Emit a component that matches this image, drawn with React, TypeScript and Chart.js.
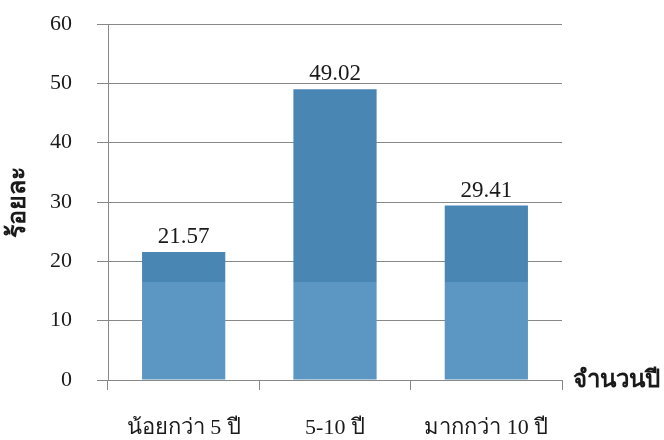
import { useEffect, useRef } from "react";
import { Chart, registerables } from "chart.js";

Chart.register(...registerables);

const categories = ["น้อยกว่า 5 ปี", "5-10 ปี", "มากกว่า 10 ปี"];
const percentages = [21.57, 49.02, 29.41];
const yMin = 0;
const yMax = 60;
const yStep = 10;
const xTitle = "จำนวนปี";
const yTitle = "ร้อยละ";

const SERIF = '"Liberation Serif", "Times New Roman", serif';
const GRID = "#888888";
const TEXT = "#1a1a1a";
const BAR_DARK = "#4a86b4";
const BAR_LIGHT = "#5c96c3";

export default function App() {
  const ref = useRef<HTMLCanvasElement>(null);

  useEffect(() => {
    if (!ref.current) return;

    const valueLabels = {
      id: "valueLabels",
      afterDatasetsDraw(chart: any) {
        const ctx = chart.ctx;
        const meta = chart.getDatasetMeta(0);
        ctx.save();
        ctx.font = `23px ${SERIF}`;
        ctx.fillStyle = TEXT;
        ctx.textAlign = "center";
        ctx.textBaseline = "alphabetic";
        meta.data.forEach((bar: any, i: number) => {
          ctx.fillText(percentages[i].toFixed(2), bar.x, bar.y - 9);
        });
        ctx.restore();
      },
    };

    const xTitlePlugin = {
      id: "xTitlePlugin",
      afterDraw(chart: any) {
        const ctx = chart.ctx;
        const area = chart.chartArea;
        ctx.save();
        ctx.font = `bold 24px ${SERIF}`;
        ctx.fillStyle = TEXT;
        ctx.textAlign = "left";
        ctx.textBaseline = "middle";
        ctx.fillText(xTitle, area.right + 11, area.bottom + 1);
        ctx.restore();
      },
    };

    const chart = new Chart(ref.current, {
      type: "bar",
      data: {
        labels: categories,
        datasets: [
          {
            data: percentages,
            backgroundColor: (c: any) => {
              const ch = c.chart;
              const area = ch.chartArea;
              const ys = ch.scales?.y;
              if (!area || !ys) return BAR_DARK;
              const split = ys.getPixelForValue(16.5);
              const t = Math.min(1, Math.max(0, (split - area.top) / (area.bottom - area.top)));
              const g = ch.ctx.createLinearGradient(0, area.top, 0, area.bottom);
              g.addColorStop(0, BAR_DARK);
              g.addColorStop(t, BAR_DARK);
              g.addColorStop(Math.min(1, t + 0.001), BAR_LIGHT);
              g.addColorStop(1, BAR_LIGHT);
              return g;
            },
            borderWidth: 0,
            barPercentage: 0.55,
            categoryPercentage: 1,
          },
        ],
      },
      options: {
        animation: false,
        responsive: true,
        maintainAspectRatio: false,
        layout: { padding: { left: 0, right: 102, top: 24, bottom: 2 } },
        plugins: {
          legend: { display: false },
          tooltip: { enabled: false },
          title: { display: false },
        },
        scales: {
          x: {
            afterFit: (s: any) => {
              s.height = 58;
            },
            grid: {
              offset: true,
              drawOnChartArea: false,
              tickLength: 10,
              color: GRID,
            },
            border: { color: GRID, width: 1 },
            ticks: {
              color: TEXT,
              font: { family: SERIF, size: 22 },
              padding: 25,
              maxRotation: 0,
            },
          },
          y: {
            min: yMin,
            max: yMax,
            afterFit: (s: any) => {
              s.width = 108;
              s.paddingTop = 14;
              s.paddingBottom = 14;
            },
            ticks: {
              stepSize: yStep,
              color: TEXT,
              font: { family: SERIF, size: 22 },
              padding: 25,
            },
            grid: { color: GRID, tickLength: 11, lineWidth: 1 },
            border: { color: GRID, width: 1 },
            title: {
              display: true,
              text: yTitle,
              color: TEXT,
              font: { family: SERIF, size: 25, weight: "bold" },
              padding: { top: 4, bottom: 0 },
            },
          },
        },
      },
      plugins: [valueLabels, xTitlePlugin],
    });

    return () => chart.destroy();
  }, []);

  return (
    <div style={{ position: "absolute", left: 0, top: 0, width: 664, height: 440, background: "#fff" }}>
      <canvas ref={ref} />
    </div>
  );
}
